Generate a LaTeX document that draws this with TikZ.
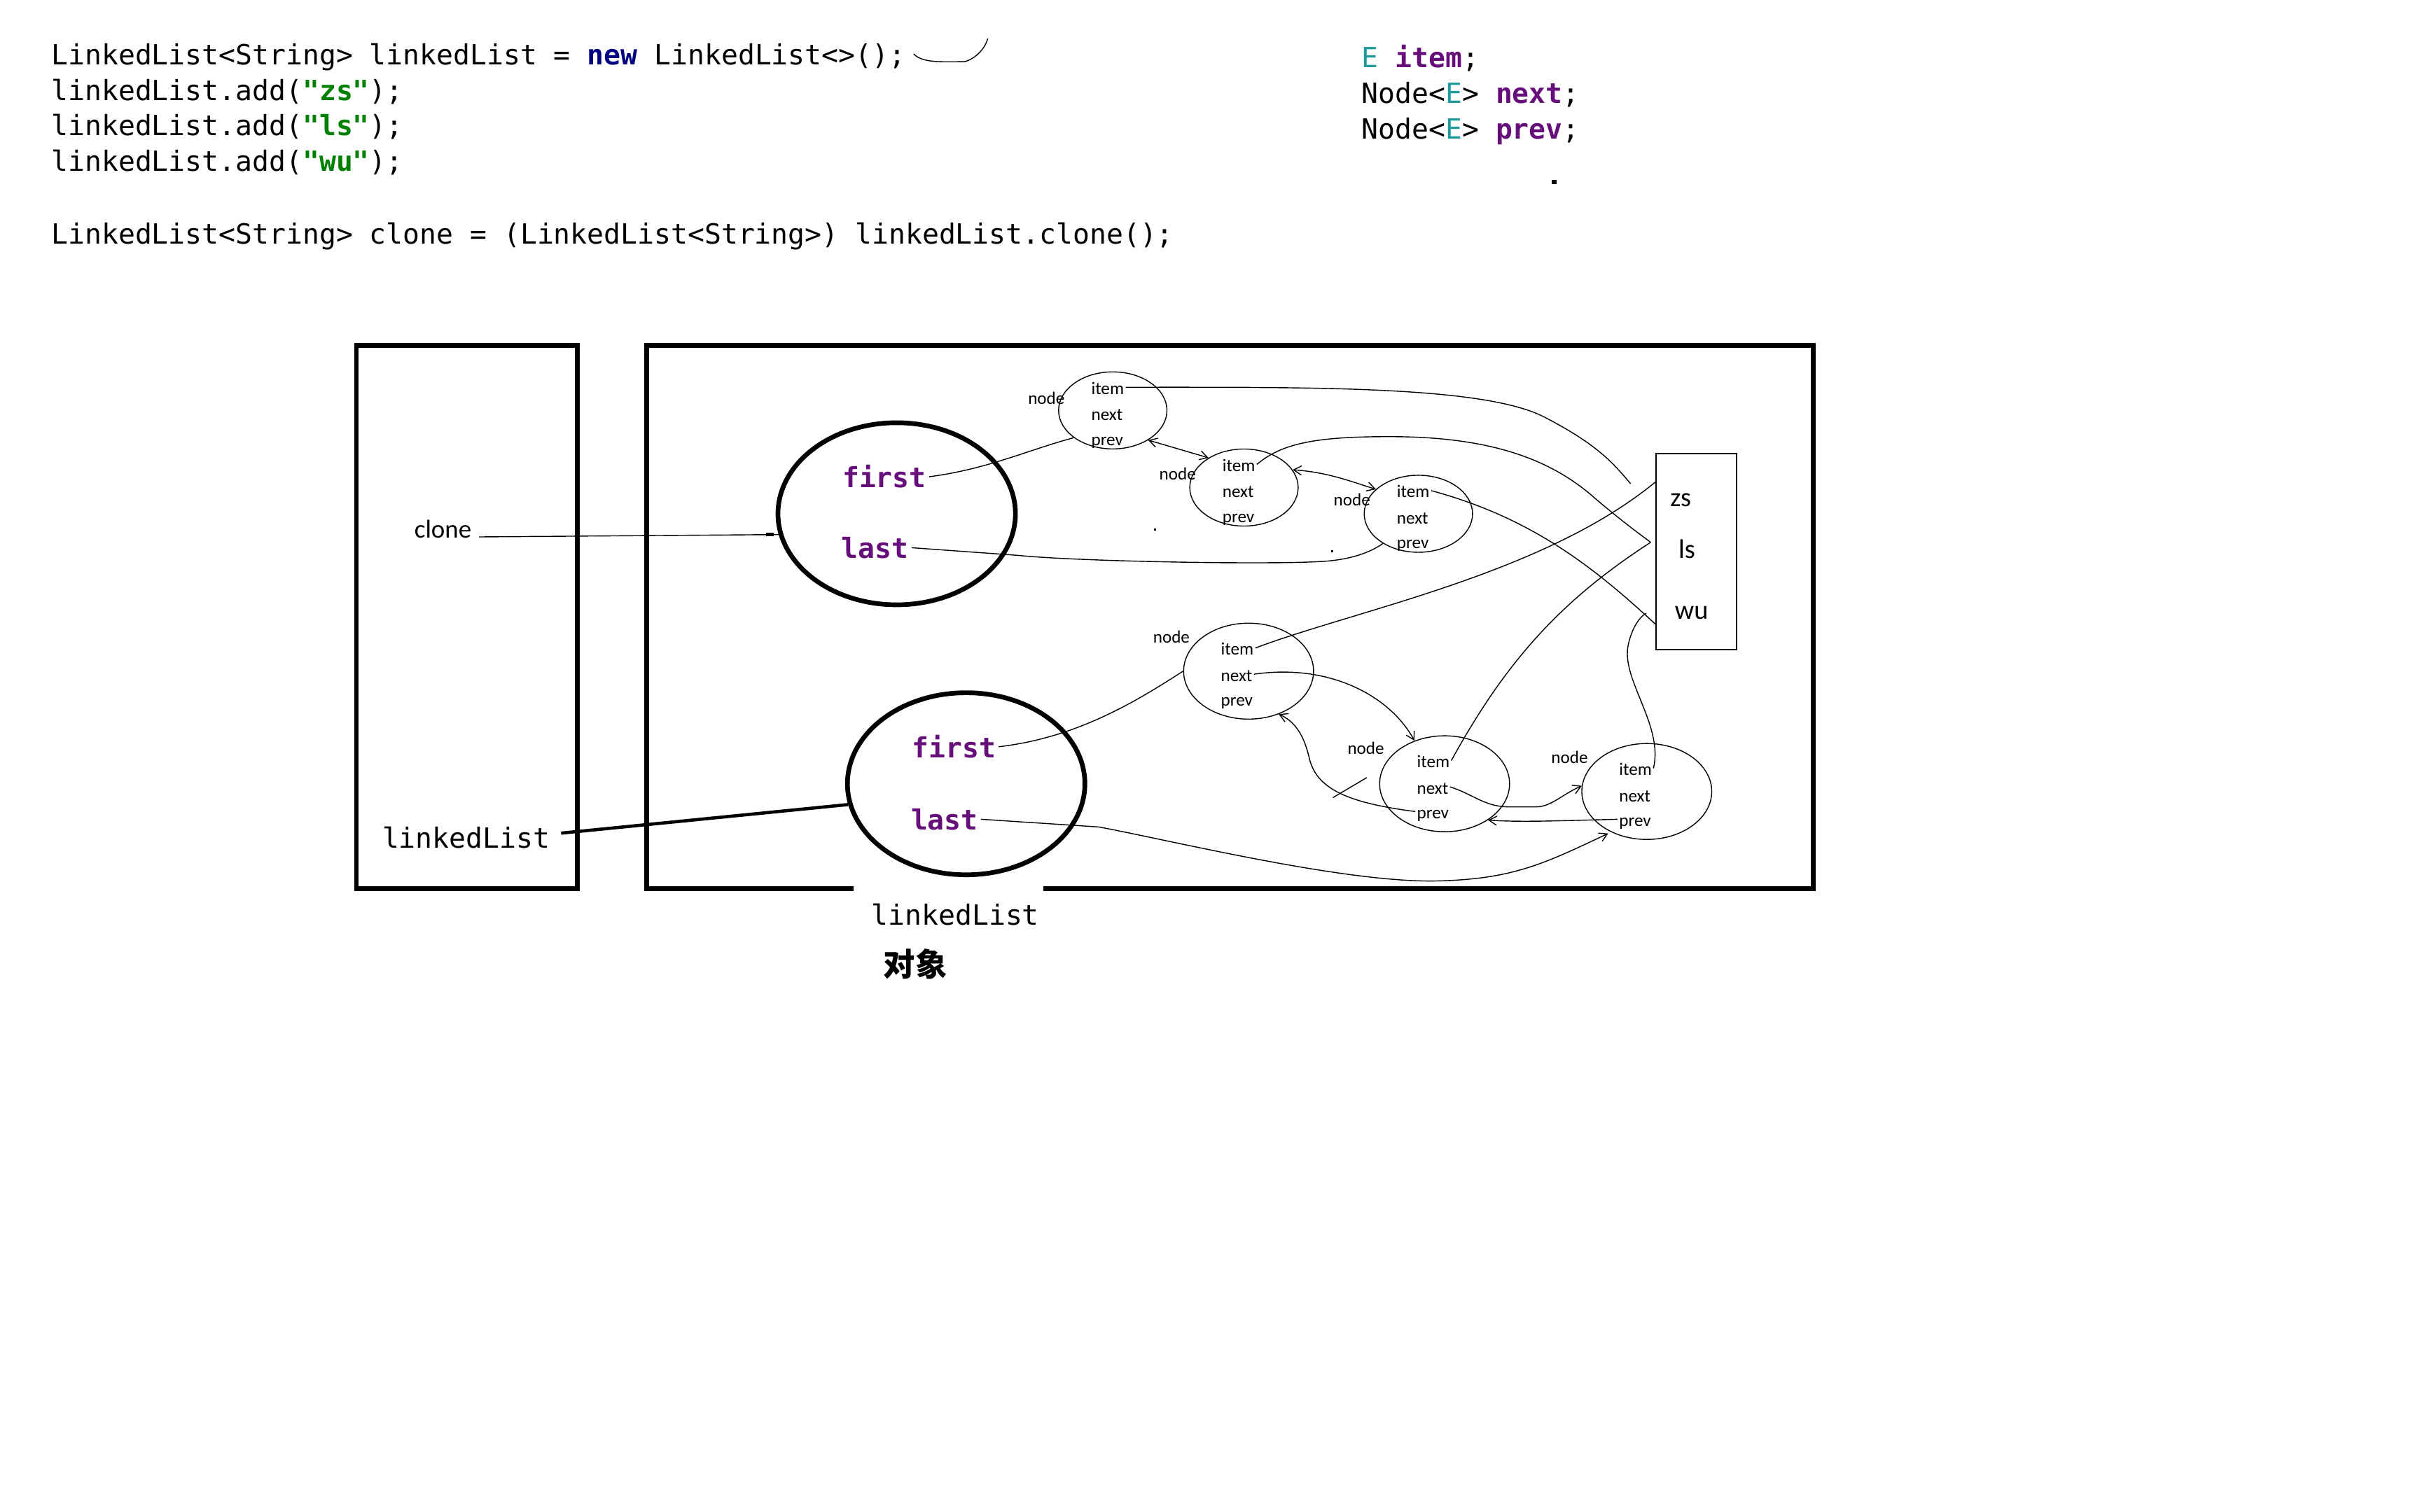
\documentclass[tikz,border=0pt]{standalone}
\usepackage{fontspec}
\setmainfont{Carlito}
\setmonofont{DejaVu Sans Mono}
\newfontfamily\cjk{Noto Sans CJK SC}
\usetikzlibrary{shapes,arrows,positioning,calc}

\definecolor{kwnavy}{HTML}{000080}
\definecolor{strgreen}{HTML}{008000}
\definecolor{fldpurple}{HTML}{660E7A}
\definecolor{typeteal}{HTML}{20999D}

\begin{document}
\begin{tikzpicture}[
    x=0.022041cm, y=-0.022041cm,
    code/.style={anchor=base west, inner sep=0pt, font=\ttfamily\fontsize{11.3}{14}\selectfont},
    frame/.style={draw, line width=1.9pt},
    obj/.style={ellipse, draw, line width=1.9pt, minimum width=3.39cm, minimum height=2.6cm},
    ref/.style={font=\ttfamily\bfseries\fontsize{11.3}{14}\selectfont, text=fldpurple, inner sep=1pt},
    nd/.style={ellipse, draw, line width=0.4pt, minimum width=1.547cm, minimum height=1.1cm},
    ndbig/.style={nd, minimum width=1.855cm, minimum height=1.37cm},
    fld/.style={anchor=west, inner sep=0.5pt, font=\fontsize{7.15}{8}\selectfont, text height=1.5ex, text depth=0.3ex},
    lbl/.style={font=\fontsize{7.15}{8}\selectfont, inner sep=0pt},
    strtxt/.style={font=\fontsize{10.9}{13}\selectfont, inner sep=0pt},
    link/.style={line width=0.4pt},
    ptr/.style={->, line width=0.4pt, >=angle 60},
    dptr/.style={<->, line width=0.4pt, >=angle 60}
]
\useasboundingbox (0,0) rectangle (1568,980);

% Code
\node[code] (decl) at (33,42) {LinkedList<String> linkedList = \textcolor{kwnavy}{\bfseries new} LinkedList<>();};
\node[code] (addzs) at (33,65) {linkedList.add(\textcolor{strgreen}{\bfseries"zs"});};
\node[code] (addls) at (33,88) {linkedList.add(\textcolor{strgreen}{\bfseries"ls"});};
\node[code] (addwu) at (33,111) {linkedList.add(\textcolor{strgreen}{\bfseries"wu"});};
\node[code] (clonecall) at (33,158) {LinkedList<String> clone = (LinkedList<String>) linkedList.clone();};
\draw[link] (592,35) .. controls (598,41) and (610,40) .. (625,40) .. controls (632,38) and (638,32) .. (640,25);

\node[code] (fitem) at (882,44) {\textcolor{typeteal}{E} \textcolor{fldpurple}{\bfseries item};};
\node[code] (fnext) at (882,67) {Node<\textcolor{typeteal}{E}> \textcolor{fldpurple}{\bfseries next};};
\node[code] (fprev) at (882,90) {Node<\textcolor{typeteal}{E}> \textcolor{fldpurple}{\bfseries prev};};
\fill (1005.5,116.5) rectangle (1008.5,119.5);

% Stack
\node[frame, minimum width=3.153cm, minimum height=7.758cm] (stack) at (302.5,400) {};
\node[font=\fontsize{10.5}{12}\selectfont, inner sep=1pt] (clonevar) at (287,343) {clone};
\node[code, anchor=center] (listvar) at (302,543) {linkedList};

% Heap
\draw[frame] (553,576) -- (419,576) -- (419,224) -- (1175,224) -- (1175,576) -- (676,576);
\node[code, anchor=center] (heaplbl) at (619,593) {linkedList};
\node[font=\cjk\bfseries\fontsize{12.9}{15}\selectfont, inner sep=0pt] (heapcap) at (593,625) {对象};

\node[obj] (cloneobj) at (581,333) {};
\node[ref] (cfirst) at (573,309) {first};
\node[ref] (clast) at (567,355) {last};
\node[obj] (listobj) at (626,508) {};
\node[ref] (lfirst) at (618,484) {first};
\node[ref] (llast) at (612,531) {last};

% Nodes
\node[nd] (n1) at (721,266) {};
\node[lbl] (n1lbl) at (678,258) {node};
\node[fld] (n1i) at ($(n1)+(-15,-15)$) {item};
\node[fld] (n1n) at ($(n1)+(-15,2)$) {next};
\node[fld] (n1p) at ($(n1)+(-15,18)$) {prev};

\node[nd] (n2) at (806,316) {};
\node[lbl] (n2lbl) at (763,307) {node};
\node[fld] (n2i) at ($(n2)+(-15,-15)$) {item};
\node[fld] (n2n) at ($(n2)+(-15,2)$) {next};
\node[fld] (n2p) at ($(n2)+(-15,18)$) {prev};

\node[nd] (n3) at (919,333) {};
\node[lbl] (n3lbl) at (876,324) {node};
\node[fld] (n3i) at ($(n3)+(-15,-15)$) {item};
\node[fld] (n3n) at ($(n3)+(-15,2)$) {next};
\node[fld] (n3p) at ($(n3)+(-15,18)$) {prev};

\node[ndbig] (n4) at (809,435) {};
\node[lbl] (n4lbl) at (759,413) {node};
\node[fld] (n4i) at ($(n4)+(-19,-15)$) {item};
\node[fld] (n4n) at ($(n4)+(-19,2)$) {next};
\node[fld] (n4p) at ($(n4)+(-19,18)$) {prev};

\node[ndbig] (n5) at (936,508) {};
\node[lbl] (n5lbl) at (885,485) {node};
\node[fld] (n5i) at ($(n5)+(-19,-15)$) {item};
\node[fld] (n5n) at ($(n5)+(-19,2)$) {next};
\node[fld] (n5p) at ($(n5)+(-19,18)$) {prev};

\node[ndbig] (n6) at (1067,513) {};
\node[lbl] (n6lbl) at (1017,491) {node};
\node[fld] (n6i) at ($(n6)+(-19,-15)$) {item};
\node[fld] (n6n) at ($(n6)+(-19,2)$) {next};
\node[fld] (n6p) at ($(n6)+(-19,18)$) {prev};

% Strings
\node[draw, line width=0.6pt, minimum width=1.146cm, minimum height=2.8cm] (strs) at (1099,357.5) {};
\node[strtxt] (zs) at (1089,324) {zs};
\node[strtxt] (ls) at (1093,356) {ls};
\node[strtxt] (wu) at (1096,397) {wu};

% References
\draw[link] ($(clonevar.east)+(3,5)$) -- (cloneobj.190);
\draw[line width=1.4pt] ($(cloneobj.190)+(-8,0)$) -- ($(cloneobj.190)+(-3,0)$);
\draw[line width=1.3pt] ($(listvar.east)+(7,-3)$) -- (listobj.190);

\draw[link] (cfirst.east) .. controls (640,304) and (665,292) .. (n1.215);
\draw[link] (clast.east) -- (660,360) .. controls (700,364) and (820,366) .. (855,364) .. controls (875,363) and (888,358) .. (n3.220);
\draw[link] (lfirst.east) .. controls (700,478) and (740,452) .. (n4.west);
\draw[ptr] (llast.east) -- (712,536) .. controls (760,545) and (870,572) .. (930,571) .. controls (980,570) and (1000,560) .. ($(n6.south west)+(5,5)$);

% item -> strings
\draw[link] (n1i.east) .. controls (850,251) and (960,250) .. (1000,270) .. controls (1035,288) and (1045,300) .. ($(strs.north west)+(-16,20)$);
\draw[link] (n2i.east) .. controls (830,288) and (850,283) .. (900,283) .. controls (960,283) and (1000,295) .. (1030,320) .. controls (1045,333) and (1058,343) .. ($(strs.west)+(-3,-6)$);
\draw[link] (n3i.east) .. controls (990,335) and (1030,365) .. ($(strs.west)+(0,47)$);
\draw[link] (n4i.east) .. controls (880,395) and (1000,372) .. ($(strs.north west)+(0,19)$);
\draw[link] (n5i.east) .. controls (975,430) and (1010,390) .. ($(strs.west)+(-3,-6)$);
\draw[link] (n6i.east) .. controls (1078,470) and (1050,440) .. (1055,418) .. controls (1057,408) and (1062,400) .. ($(strs.west)+(-6,40)$);

% next / prev
\draw[dptr] (n1.320) -- (n2.140);
\draw[dptr] (n2.20) .. controls (860,306) and (875,312) .. (n3.150);
\draw[ptr] (n4n.east) .. controls (860,430) and (900,450) .. (n5.125);
\draw[ptr] (n5p.west) .. controls (870,520) and (852,510) .. (848,490) .. controls (845,478) and (840,468) .. (n4.305);
\draw[link] ($(n5.west)+(-8,-4)$) -- ++(-22,13);
\draw[ptr] (n5n.east) .. controls (955,515) and (962,523) .. (978,523) -- (995,523) .. controls (1005,523) and (1012,515) .. (n6.175);
\draw[ptr] (n6p.west) .. controls (1010,532) and (985,533) .. (n5.320);

\fill (747.5,342.5) rectangle (749,344);
\fill (862.5,356.5) rectangle (864,358);

\end{tikzpicture}
\end{document}
